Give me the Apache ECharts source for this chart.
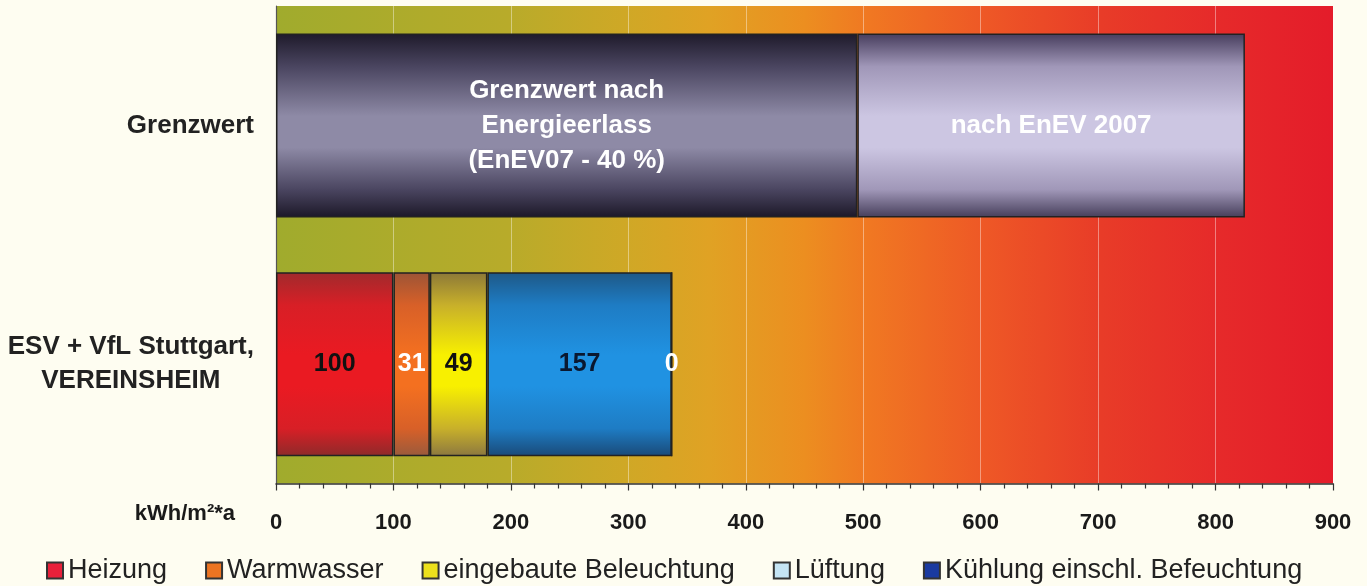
<!DOCTYPE html>
<html>
<head>
<meta charset="utf-8">
<script src="https://cdn.jsdelivr.net/npm/echarts@6/dist/echarts.min.js"></script>
<style>
html,body{margin:0;padding:0;background:#fefdf1;}
#chart{width:1367px;height:586px;}
</style>
</head>
<body>
<div id="chart"></div>
<script>
// ---- data ----
const categories = ['ESV + VfL Stuttgart,\nVEREINSHEIM', 'Grenzwert'];
const limitNames = ['Grenzwert nach Energieerlass', 'nach EnEV 2007'];
const limitLabels = ['Grenzwert nach\nEnergieerlass\n(EnEV07 - 40 %)', 'nach EnEV 2007'];
const limitEnergieerlass = [null, 495];
const limitEnEV2007 = [null, 330];
const seriesNames = ['Heizung', 'Warmwasser', 'eingebaute Beleuchtung', 'Lüftung', 'Kühlung einschl. Befeuchtung'];
const heizung = [100, null];
const warmwasser = [31, null];
const beleuchtung = [49, null];
const lueftung = [157, null];
const kuehlung = [0, null];
const xMin = 0, xMax = 900, xInterval = 100;
const axisName = 'kWh/m²*a';

// ---- styles ----
const G = echarts.graphic.LinearGradient;
function vgrad(edge, mid, soft, bottom) {
  return new G(0, 0, 0, 1, [
    {offset: 0, color: edge},
    {offset: 0.18, color: soft},
    {offset: 0.45, color: mid},
    {offset: 0.62, color: mid},
    {offset: 0.85, color: soft},
    {offset: 1, color: bottom || edge}
  ]);
}
const bgGrad = new G(0, 0, 1, 0, [
  {offset: 0.00, color: '#a0ab2d'},
  {offset: 0.22, color: '#b8ab2a'},
  {offset: 0.33, color: '#cfa826'},
  {offset: 0.41, color: '#e0a224'},
  {offset: 0.50, color: '#ec8e20'},
  {offset: 0.56, color: '#f07822'},
  {offset: 0.67, color: '#ee5826'},
  {offset: 0.78, color: '#e83c28'},
  {offset: 0.89, color: '#e62a2a'},
  {offset: 1.00, color: '#e41c2a'}
]);
const barBorder = {borderColor: '#222', borderWidth: 1.5};
const FONT = 'Liberation Sans, Arial, sans-serif';
const labelFont = {fontFamily: FONT, fontWeight: 'bold', fontSize: 25};

const chart = echarts.init(document.getElementById('chart'));

function limitSeries(i, data, fill) {
  return {
    name: limitNames[i], type: 'bar', stack: 'total', data: data, barWidth: 184,
    itemStyle: Object.assign({color: fill}, barBorder),
    label: Object.assign({show: true, position: 'inside', color: '#fff', lineHeight: 35,
      formatter: () => limitLabels[i]}, labelFont, {fontSize: 26}),
    emphasis: {disabled: true}
  };
}
function useSeries(i, data, fill, lblColor) {
  return {
    name: seriesNames[i], type: 'bar', stack: 'total', data: data, barWidth: 184,
    itemStyle: Object.assign({color: fill}, barBorder),
    label: Object.assign({show: true, position: 'inside', color: lblColor}, labelFont),
    emphasis: {disabled: true}
  };
}

const option = {
  backgroundColor: '#fefdf1',
  animation: false,
  textStyle: {fontFamily: FONT},
  grid: {left: 276, right: 34, top: 6, bottom: 102.5, show: true, backgroundColor: bgGrad, borderWidth: 0},
  legend: {
    left: 46, top: 557, padding: 0, itemWidth: 16, itemHeight: 16, itemGap: 38,
    icon: 'rect',
    itemStyle: {borderColor: '#333', borderWidth: 2},
    textStyle: {fontSize: 27, color: '#222', fontFamily: FONT},
    data: [
      {name: seriesNames[0], itemStyle: {color: '#e8203a'}},
      {name: seriesNames[1], itemStyle: {color: '#ec7422'}},
      {name: seriesNames[2], itemStyle: {color: '#ece01c'}},
      {name: seriesNames[3], itemStyle: {color: '#c4e4f4'}},
      {name: seriesNames[4], itemStyle: {color: '#1a3aa0'}}
    ]
  },
  xAxis: [{
    type: 'value', min: xMin, max: xMax, interval: xInterval,
    axisLine: {show: true, lineStyle: {color: '#333', width: 1.5}},
    axisTick: {show: true, length: 7, lineStyle: {color: '#333', width: 1.2}},
    minorTick: {show: true, splitNumber: 5, length: 5, lineStyle: {color: '#333', width: 1.2}},
    axisLabel: {fontSize: 22, fontWeight: 'bold', color: '#1a1a1a', margin: 28},
    splitLine: {show: true, lineStyle: {color: 'rgba(255,255,255,0.4)', width: 1}}
  }, {
    // carries only the unit name, set lower to sit beside the tick labels
    type: 'value', min: xMin, max: xMax, interval: xInterval, position: 'bottom', offset: 30,
    name: axisName, nameLocation: 'start', nameGap: 41,
    nameTextStyle: {fontSize: 22, fontWeight: 'bold', color: '#1a1a1a'},
    axisLine: {show: false}, axisTick: {show: false}, axisLabel: {show: false}, splitLine: {show: false}
  }],
  yAxis: {
    type: 'category', data: categories,
    axisLine: {show: true, lineStyle: {color: '#555', width: 1.2}},
    axisTick: {show: false},
    axisLabel: {
      margin: 22, align: 'right',
      formatter: v => v.split('\n').map(s => '{c|' + s + '}').join('\n'),
      rich: {c: {align: 'center', fontSize: 26, fontWeight: 'bold', color: '#222', lineHeight: 34, fontFamily: FONT}}
    }
  },
  series: [
    limitSeries(0, limitEnergieerlass, vgrad('#1e1a2a', '#8e8aa6', '#4a4560', '#1c1828')),
    limitSeries(1, limitEnEV2007, vgrad('#463c5c', '#ccc6e2', '#a097b8', '#463e5a')),
    useSeries(0, heizung, vgrad('#a02a2c', '#ea1a22', '#d81f26', '#8e2a2a'), '#111'),
    useSeries(1, warmwasser, vgrad('#9c5436', '#f47020', '#d86028', '#9a5a3c'), '#fff'),
    useSeries(2, beleuchtung, vgrad('#8c7838', '#f8f000', '#c8b02a', '#8c7840'), '#111'),
    useSeries(3, lueftung, vgrad('#1e5886', '#2092e2', '#1e7cc4', '#1a4a78'), '#0a1830'),
    useSeries(4, kuehlung, vgrad('#10286a', '#1a3aa0', '#142e80', '#10286a'), '#fff')
  ]
};
chart.setOption(option);
</script>
</body>
</html>
